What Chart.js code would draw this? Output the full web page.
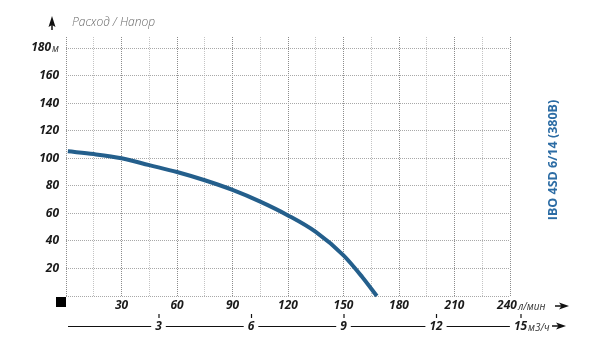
<!DOCTYPE html>
<html><head><meta charset="utf-8">
<script src="https://cdn.jsdelivr.net/npm/chart.js@4/dist/chart.umd.min.js"></script>
<style>html,body{margin:0;padding:0;background:#fff;}#wrap{width:600px;height:355px;position:relative;}</style>
</head><body><div id="wrap"><canvas id="c" width="600" height="355"></canvas></div>
<script>
// ---- data ----
const flowLmin = [1, 15, 30, 45, 60, 75, 90, 105, 120, 135, 150, 160, 168];
const headM    = [105, 103, 100, 95, 90, 84, 77, 68.5, 58.5, 46.5, 29.5, 14, 0];
const xTickLabelsLmin = [30, 60, 90, 120, 150, 180, 210, 240];
const xTickLabelsM3h  = [3, 6, 9, 12, 15];
const yTickLabelsM    = [20, 40, 60, 80, 100, 120, 140, 160, 180];
const xGridValues = [0, 15, 30, 45, 60, 75, 90, 105, 120, 135, 150, 165, 180, 195, 210, 225, 240];
const yGridValues = [0, 20, 40, 60, 80, 100, 120, 140, 160, 180];
const titleText = 'Расход / Напор';
const modelName = 'IBO 4SD 6/14 (380B)';
const unitHead = 'м', unitFlowLmin = 'л/мин', unitFlowM3h = 'м3/ч';

const FONT = '"Open Sans", "DejaVu Sans", sans-serif';
const numFont = 'italic bold 12px ' + FONT;
const unitFont = 'italic 10px ' + FONT;

function arrowRight(ctx, x0, x1, y) {
  ctx.save();
  ctx.fillStyle = '#111'; ctx.strokeStyle = '#111'; ctx.lineWidth = 1.5;
  ctx.beginPath(); ctx.moveTo(x0, y); ctx.lineTo(x1 - 6, y); ctx.stroke();
  ctx.beginPath();
  ctx.moveTo(x1, y); ctx.lineTo(x1 - 10, y - 3.5); ctx.lineTo(x1 - 7.5, y); ctx.lineTo(x1 - 10, y + 3.5);
  ctx.closePath(); ctx.fill();
  ctx.restore();
}
function arrowUp(ctx, x, y0, y1) {
  ctx.save();
  ctx.fillStyle = '#111'; ctx.strokeStyle = '#111'; ctx.lineWidth = 1.5;
  ctx.beginPath(); ctx.moveTo(x, y0); ctx.lineTo(x, y1 + 6); ctx.stroke();
  ctx.beginPath();
  ctx.moveTo(x, y1); ctx.lineTo(x - 3.5, y1 + 11); ctx.lineTo(x, y1 + 9); ctx.lineTo(x + 3.5, y1 + 11);
  ctx.closePath(); ctx.fill();
  ctx.restore();
}

const labelsPlugin = {
  id: 'labels',
  afterDraw(chart) {
    const ctx = chart.ctx, xs = chart.scales.x, ys = chart.scales.y, ca = chart.chartArea;
    ctx.save();
    // y labels
    ctx.fillStyle = '#1a1a1a';
    ctx.textBaseline = 'middle';
    yTickLabelsM.forEach((v, i) => {
      const y = ys.getPixelForValue(v);
      let right = ca.left - 7;
      if (i === yTickLabelsM.length - 1) {
        ctx.font = unitFont; ctx.textAlign = 'right'; ctx.fillStyle = '#333';
        ctx.fillText(unitHead, right, y + 1);
        right -= ctx.measureText(unitHead).width + 1;
        ctx.fillStyle = '#1a1a1a';
      }
      ctx.font = numFont; ctx.textAlign = 'right';
      ctx.fillText(String(v), right, y);
    });
    // black square at origin
    ctx.fillStyle = '#000';
    ctx.fillRect(ca.left - 10, ca.bottom + 1, 10, 10);
    // x labels row 1 (l/min)
    const yRow1 = ca.bottom + 10;
    ctx.fillStyle = '#1a1a1a';
    xTickLabelsLmin.forEach((v, i) => {
      const x = xs.getPixelForValue(v);
      ctx.font = numFont; ctx.textAlign = 'center';
      ctx.fillText(String(v), x - (i === xTickLabelsLmin.length - 1 ? 3 : 0), yRow1);
      if (i === xTickLabelsLmin.length - 1) {
        const w = ctx.measureText(String(v)).width;
        ctx.font = unitFont; ctx.textAlign = 'left'; ctx.fillStyle = '#333';
        ctx.fillText(unitFlowLmin, x - 3 + w / 2 + 1, yRow1 + 1);
        ctx.fillStyle = '#1a1a1a';
      }
    });
    arrowRight(ctx, 555, 569, yRow1);
    // x labels row 2 (m3/h)
    const yRow2 = ca.bottom + 30;
    let prevX = ca.left + 2;
    ctx.strokeStyle = '#111'; ctx.lineWidth = 1.2;
    xTickLabelsM3h.forEach((v, i) => {
      const x = xs.getPixelForValue(v * 1000 / 60) - (i === xTickLabelsM3h.length - 1 ? 8 : 0);
      ctx.font = numFont; ctx.textAlign = 'center';
      const w = ctx.measureText(String(v)).width;
      ctx.beginPath(); ctx.moveTo(prevX, yRow2 + 0.5); ctx.lineTo(x - w / 2 - 4, yRow2 + 0.5); ctx.stroke();
      ctx.beginPath(); ctx.moveTo(x + 0.5, yRow2 - 12); ctx.lineTo(x + 0.5, yRow2 - 8); ctx.stroke();
      ctx.fillStyle = '#1a1a1a';
      ctx.fillText(String(v), x, yRow2 + 1);
      prevX = x + w / 2 + 4;
      if (i === xTickLabelsM3h.length - 1) {
        ctx.font = unitFont; ctx.textAlign = 'left'; ctx.fillStyle = '#333';
        ctx.fillText(unitFlowM3h, x + w / 2 + 1, yRow2 + 2);
      }
    });
    arrowRight(ctx, 552, 566, yRow2);
    // title with up arrow
    arrowUp(ctx, 52, 30, 16);
    ctx.font = 'italic 300 12px ' + FONT;
    ctx.fillStyle = '#6a6a6a'; ctx.textAlign = 'left'; ctx.textBaseline = 'middle';
    ctx.fillText(titleText, 72, 23);
    // model name rotated
    ctx.save();
    ctx.translate(553, 160);
    ctx.rotate(-Math.PI / 2);
    ctx.font = 'bold 12.5px ' + FONT;
    ctx.fillStyle = '#2c6ca4'; ctx.textAlign = 'center'; ctx.textBaseline = 'middle';
    ctx.fillText(modelName, 0, 0);
    ctx.restore();
    ctx.restore();
  }
};

new Chart(document.getElementById('c'), {
  type: 'line',
  data: {
    datasets: [{
      data: flowLmin.map((q, i) => ({ x: q, y: headM[i] })),
      borderColor: '#245f8c',
      borderWidth: 4,
      pointRadius: 0,
      fill: false,
      cubicInterpolationMode: 'monotone',
      borderCapStyle: 'butt',
      clip: 6
    }]
  },
  options: {
    responsive: false,
    animation: false,
    devicePixelRatio: 1,
    layout: { padding: { left: 66, right: 90, top: 37, bottom: 59 } },
    plugins: { legend: { display: false }, tooltip: { enabled: false } },
    scales: {
      x: {
        type: 'linear', min: 0, max: 240,
        afterBuildTicks: s => { s.ticks = xGridValues.map(v => ({ value: v })); },
        ticks: { display: false },
        grid: {
          drawTicks: false, lineWidth: 1,
          color: c => (c.tick && c.tick.value % 30 === 0) ? '#8c8c8c' : '#c4c4c4'
        },
        border: { display: false, dash: [1, 1] }
      },
      y: {
        type: 'linear', min: 0, max: 188,
        afterBuildTicks: s => { s.ticks = yGridValues.map(v => ({ value: v })); },
        ticks: { display: false },
        grid: { drawTicks: false, lineWidth: 1, color: '#a8a8a8' },
        border: { display: false, dash: [1, 1] }
      }
    }
  },
  plugins: [labelsPlugin]
});
</script>
</body></html>
